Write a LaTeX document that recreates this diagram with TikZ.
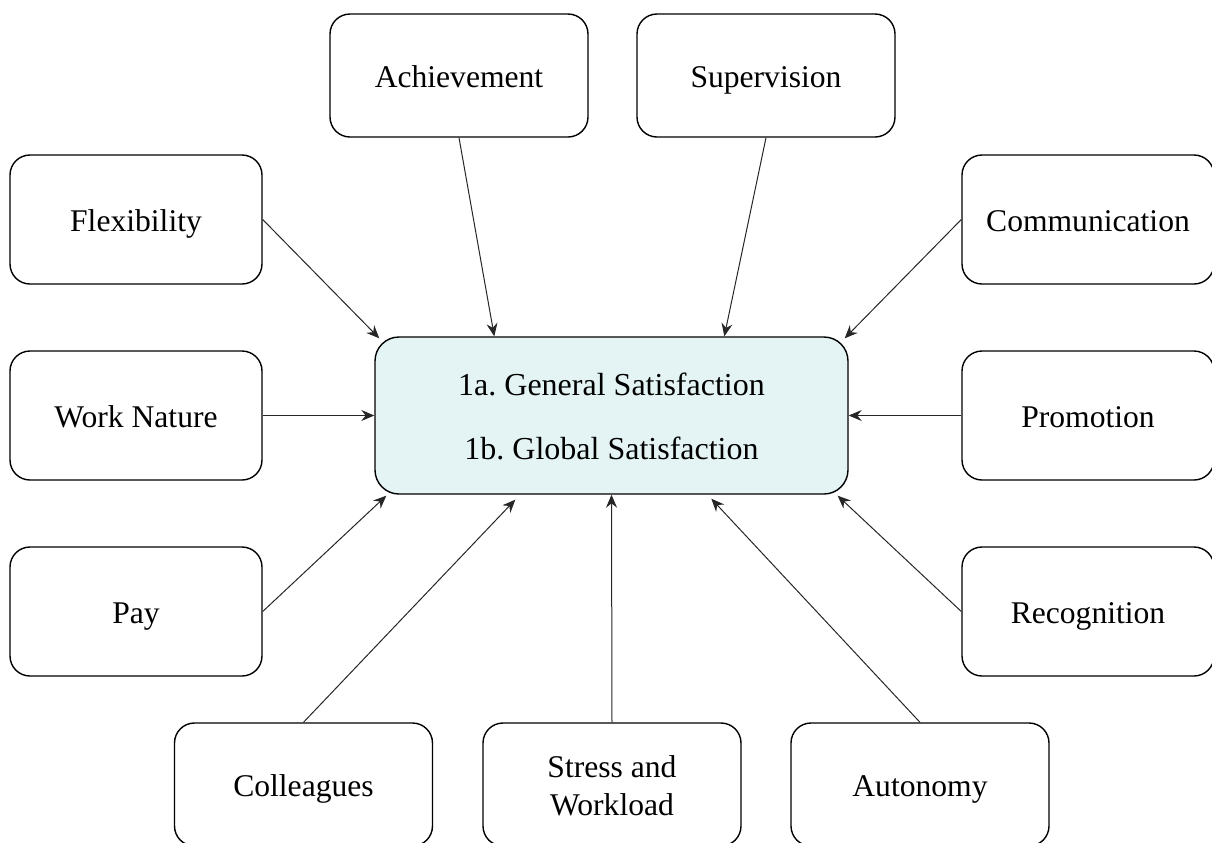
\documentclass[tikz,border=0pt]{standalone}
\usepackage{fontspec}
\setmainfont{Liberation Serif}
\frenchspacing
\usetikzlibrary{arrows.meta,calc}
\definecolor{centerfill}{RGB}{228,244,244}
\begin{document}
\begin{tikzpicture}[x=0.5pt,y=-0.5pt,
  box/.style={draw=black,line width=0.7pt,rounded corners=10pt,fill=white,
    inner sep=0pt,align=center,text height=13pt,text depth=1.5pt,
    font=\fontsize{15.8}{19}\selectfont},
  hbox/.style={box,minimum width=129pt,minimum height=61.5pt},
  sbox/.style={box,minimum width=126pt,minimum height=64.5pt},
  twoline/.style={text height=32pt,text depth=1.5pt},
  mainbox/.style={draw=black,line width=0.7pt,rounded corners=12pt,fill=centerfill,
    inner sep=0pt,align=center,minimum width=236.5pt,minimum height=78.5pt,
    text height=45pt,text depth=1.5pt,
    font=\fontsize{16}{32}\selectfont},
  link/.style={draw=black!85,line width=0.5pt,-{Stealth[length=6.5pt,width=5.5pt,inset=2.2pt]}}
]
\useasboundingbox (0,0) rectangle (1212,842);
\node[mainbox] (c) at (611.5,415.5) {1a. General Satisfaction\\1b. Global Satisfaction};
\node[hbox] (ach) at (459,75.5) {Achievement};
\node[hbox] (sup) at (766,75.5) {Supervision};
\node[sbox] (flex) at (136,219.5) {Flexibility};
\node[sbox] (comm) at (1088,219.5) {Communication};
\node[sbox] (work) at (136,415.5) {Work Nature};
\node[sbox] (prom) at (1088,415.5) {Promotion};
\node[sbox] (pay) at (136,611.5) {Pay};
\node[sbox] (rec) at (1088,611.5) {Recognition};
\node[hbox] (coll) at (303.5,784.5) {Colleagues};
\node[hbox,twoline] (stress) at (612,784.5) {Stress and\\Workload};
\node[hbox] (auto) at (920,784.5) {Autonomy};

\draw[link] (ach.south) -- ($(c.north west)+(120,0)$);
\draw[link] (sup.south) -- ($(c.north west)+(350,0)$);
\draw[link] (flex.east) -- ($(c.north west)+(5,2)$);
\draw[link] (comm.west) -- ($(c.north east)+(-4,2)$);
\draw[link] (work.east) -- (c.west);
\draw[link] (prom.west) -- (c.east);
\draw[link] (pay.east) -- ($(c.south west)+(12,1)$);
\draw[link] (rec.west) -- ($(c.south east)+(-11,1)$);
\draw[link] (coll.north) -- ($(c.south west)+(141,5)$);
\draw[link] (stress.north) -- (c.south);
\draw[link] (auto.north) -- ($(c.south west)+(337,4)$);
\end{tikzpicture}
\end{document}
